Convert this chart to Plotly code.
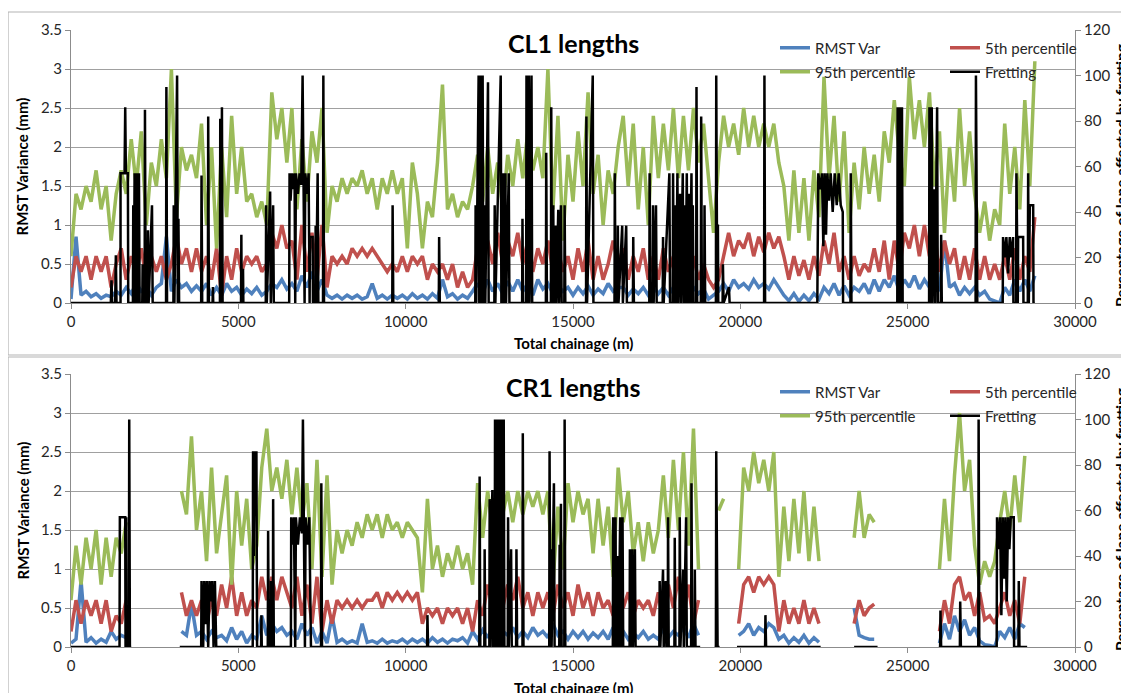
import plotly.graph_objects as go

# ---------------- data ----------------
STEP = 150  # chainage sampling interval (m)

# CL1 lengths (top chart), mm, one value per 150 m from 0 m
cl1_rmst = [
    0.05, 0.85, 0.1, 0.15, 0.08, 0.12, 0.06, 0.1, 0.08, 0.15,
    0.1, 0.2, 0.12, 0.25, 0.15, 0.2, 0.1, 0.2, 0.25, 0.85,
    0.15, 0.3, 0.2, 0.25, 0.15, 0.22, 0.15, 0.25, 0.1, 0.2,
    0.1, 0.25, 0.15, 0.2, 0.1, 0.18, 0.12, 0.2, 0.1, 0.15,
    0.25, 0.2, 0.3, 0.18, 0.25, 0.15, 0.35, 0.2, 0.4, 0.15,
    0.3, 0.1, 0.06, 0.1, 0.05, 0.1, 0.06, 0.1, 0.05, 0.08,
    0.25, 0.06, 0.1, 0.05, 0.1, 0.06, 0.1, 0.05, 0.12, 0.06,
    0.1, 0.05, 0.12, 0.06, 0.3, 0.08, 0.12, 0.05, 0.1, 0.06,
    0.15, 0.25, 0.12, 0.3, 0.15, 0.25, 0.12, 0.28, 0.15, 0.3,
    0.15, 0.25, 0.1, 0.3, 0.18, 0.25, 0.12, 0.22, 0.15, 0.2,
    0.1, 0.2, 0.12, 0.22, 0.1, 0.18, 0.12, 0.25, 0.15, 0.2,
    0.2, 0.1, 0.18, 0.12, 0.2, 0.1, 0.22, 0.12, 0.2, 0.1,
    0.2, 0.12, 0.25, 0.1, 0.2, 0.12, 0.18, 0.05, 0.1, 0.15,
    0.25, 0.15, 0.3, 0.2, 0.25, 0.18, 0.3, 0.2, 0.25, 0.18,
    0.3, 0.2, 0.1, 0.03, 0.12, 0.02, 0.1, 0.03, 0.12, 0.05,
    0.2, 0.12, 0.25, 0.1, 0.22, 0.1, 0.2, 0.15, 0.25, 0.12,
    0.3, 0.15, 0.3, 0.2, 0.35, 0.15, 0.3, 0.2, 0.35, 0.18,
    0.3, 0.2, 0.35, 0.15, 0.8, 0.2, 0.25, 0.1, 0.2, 0.12,
    0.2, 0.1, 0.15, 0.05, 0.02, 0.0, 0.2, 0.1, 0.3, 0.15,
    0.3, 0.15, 0.35,
]
cl1_p5 = [
    0.2, 0.6, 0.4, 0.6, 0.3, 0.6, 0.4, 0.6, 0.2, 0.5,
    0.7, 0.3, 0.6, 0.4, 0.7, 0.3, 0.6, 0.4, 0.6, 0.3,
    0.5, 0.85, 0.5, 0.7, 0.4, 0.7, 0.4, 0.6, 0.3, 0.7,
    0.1, 0.6, 0.3, 0.7, 0.4, 0.6, 0.5, 0.6, 0.4, 0.5,
    0.9, 0.7, 1.0, 0.7, 0.8, 0.3, 1.0, 0.4, 0.9, 0.3,
    1.0, 0.2, 0.6, 0.5, 0.6, 0.5, 0.7, 0.6, 0.7, 0.6,
    0.7, 0.6, 0.5, 0.4, 0.5, 0.4, 0.6, 0.4, 0.6, 0.5,
    0.6, 0.3, 0.5, 0.4, 0.5, 0.3, 0.5, 0.2, 0.4, 0.2,
    0.3, 0.7, 0.4, 0.8, 0.5, 0.9, 0.5, 0.8, 0.6, 0.9,
    0.5, 0.8, 0.4, 0.7, 0.5, 0.8, 0.4, 0.7, 0.4, 0.6,
    0.3, 0.7, 0.4, 0.8, 0.3, 0.6, 0.3, 0.5, 0.8, 0.5,
    0.7, 0.3, 0.6, 0.4, 0.7, 0.3, 0.6, 0.3, 0.7, 0.4,
    0.6, 0.3, 0.7, 0.4, 0.6, 0.3, 0.5, 0.3, 0.2, 0.3,
    0.6, 0.9, 0.6, 0.8, 0.7, 0.9, 0.6, 0.85, 0.65, 0.9,
    0.7, 0.85, 0.6, 0.3, 0.6, 0.35, 0.55, 0.3, 0.6, 0.35,
    0.8, 0.5, 0.9, 0.4, 0.6, 0.3, 0.6, 0.35, 0.5, 0.4,
    0.7, 0.4, 0.8, 0.3, 0.8, 0.4, 0.9, 0.7, 1.0, 0.6,
    1.0, 0.6, 0.9, 0.4, 0.8, 0.5, 0.7, 0.3, 0.6, 0.3,
    0.7, 0.3, 0.6, 0.3, 0.5, 0.3, 0.6, 0.3, 0.7, 0.3,
    0.6, 0.4, 1.1,
]
cl1_p95 = [
    0.6, 1.4, 1.2, 1.5, 1.3, 1.7, 1.2, 1.5, 0.8, 1.4,
    1.7, 1.4, 2.1, 1.5, 2.2, 1.0, 1.8, 1.5, 2.1, 1.6,
    3.0, 1.1, 2.0, 1.7, 1.9, 1.6, 2.3, 1.0, 2.0, 0.7,
    2.0, 1.1, 2.4, 1.4, 2.0, 1.3, 1.4, 1.1, 1.3, 1.0,
    2.7, 2.1, 2.5, 1.8, 2.5, 1.2, 2.1, 1.3, 2.2, 1.8,
    2.5, 0.9, 1.5, 1.3, 1.6, 1.4, 1.6, 1.5, 1.7, 1.4,
    1.6, 1.2, 1.6, 1.4, 1.7, 1.4, 1.6, 0.7, 1.8, 1.4,
    0.7, 1.3, 1.1, 1.8, 2.8, 1.2, 1.4, 1.1, 1.3, 1.2,
    1.5, 1.9, 1.3, 2.0, 1.4, 1.8, 1.2, 1.9, 1.5, 2.1,
    1.6, 2.2, 1.7, 2.0, 1.6, 3.0, 1.2, 2.4, 0.8, 1.9,
    1.3, 2.2, 1.5, 2.7, 1.4, 1.9, 1.0, 1.7, 1.4, 2.0,
    2.4, 1.5, 2.3, 1.2, 2.0, 1.0, 2.4, 1.6, 2.3, 1.7,
    2.5, 1.6, 2.4, 1.7, 2.5, 1.8, 2.3, 1.6, 0.9, 1.8,
    2.4, 2.0, 2.3, 1.9, 2.5, 2.0, 2.4, 2.0, 2.3, 2.0,
    2.3, 1.8, 1.5, 0.8, 1.7, 0.9, 1.6, 0.8, 1.7, 1.1,
    2.9, 1.6, 2.4, 1.3, 2.2, 0.9, 1.8, 1.2, 2.0, 1.4,
    1.9, 1.3, 2.2, 1.8, 2.6, 1.9, 1.5, 2.9, 2.1, 2.6,
    2.0, 2.7, 1.5, 2.2, 0.9, 2.0, 1.3, 2.5, 1.5, 2.2,
    1.4, 0.9, 1.3, 0.8, 1.2, 1.0, 2.3, 1.4, 2.0, 1.2,
    2.6, 1.5, 3.1,
]
# fretting, % of lane: (chainage m, %)
cl1_fretting = [
    (0, 0), (1190, 0), (1210, 10), (1230, 0), (1320, 0), (1340, 21), (1360, 0),
    (1480, 0), (1480, 57), (1600, 57), (1620, 86), (1640, 57), (1700, 57), (1710, 0),
    (1850, 0), (1860, 43), (1880, 0), (1900, 57), (1920, 0), (1960, 57), (1980, 0),
    (2030, 57), (2050, 0), (2130, 0), (2140, 17), (2150, 0), (2200, 0), (2210, 85),
    (2230, 0), (2290, 0), (2300, 32), (2320, 0), (2420, 43), (2440, 0),
    (2840, 0), (2850, 95), (2870, 0), (3060, 0), (3070, 43), (3090, 0), (3170, 100),
    (3190, 0), (3210, 37), (3230, 0), (3890, 0), (3900, 56), (3920, 0),
    (4090, 0), (4100, 82), (4120, 0), (4230, 0), (4240, 7), (4250, 0),
    (4450, 0), (4460, 81), (4480, 0), (4510, 86), (4530, 0),
    (5080, 0), (5090, 30), (5100, 0), (5140, 15), (5150, 0),
    (5820, 0), (5830, 43), (5850, 0), (5950, 49), (5970, 0), (6040, 43), (6060, 0),
    (6520, 0), (6530, 57), (6560, 45), (6600, 57), (6640, 50), (6680, 57), (6700, 0),
    (6720, 57), (6780, 48), (6830, 57), (6880, 52), (6920, 100), (6940, 57), (6980, 0),
    (7000, 57), (7060, 48), (7100, 57), (7130, 0), (7140, 29), (7220, 29), (7230, 0),
    (7300, 0), (7310, 34), (7320, 0), (7370, 57), (7390, 0), (7530, 0), (7540, 100),
    (7560, 0), (9600, 0), (9610, 43), (9630, 0), (10990, 0), (11000, 29), (11020, 0),
    (12080, 0), (12090, 43), (12110, 0), (12180, 100), (12200, 0), (12240, 100),
    (12260, 0), (12300, 100), (12320, 0), (12360, 43), (12380, 0), (12460, 97),
    (12480, 0), (12650, 0), (12660, 43), (12680, 0), (12840, 100), (12860, 0),
    (12910, 0), (12920, 57), (12940, 0), (12980, 57), (13000, 0), (13080, 57),
    (13100, 0), (13480, 0), (13490, 37), (13510, 0), (13600, 0), (13610, 100),
    (13630, 0), (13680, 100), (13700, 0), (13760, 100), (13780, 0),
    (14190, 0), (14200, 66), (14220, 0), (14340, 0), (14350, 86), (14370, 0),
    (14410, 43), (14430, 0), (14480, 34), (14500, 0), (14560, 41), (14580, 0),
    (14640, 43), (14660, 0), (14740, 0), (14750, 43), (14770, 0),
    (15390, 0), (15400, 82), (15420, 0), (15590, 100), (15610, 0),
    (16240, 0), (16250, 57), (16270, 0), (16330, 0), (16340, 34), (16360, 0),
    (16470, 34), (16490, 0), (16590, 34), (16610, 0), (16790, 0), (16800, 29),
    (16820, 0), (17280, 0), (17290, 57), (17310, 0), (17380, 0), (17390, 43),
    (17410, 0), (17480, 43), (17500, 0), (17680, 0), (17690, 29), (17710, 0),
    (17880, 57), (17900, 0), (17980, 0), (17990, 57), (18010, 0), (18060, 43),
    (18080, 0), (18120, 57), (18140, 0), (18200, 48), (18220, 0), (18280, 57),
    (18300, 0), (18340, 43), (18360, 0), (18400, 57), (18420, 0), (18470, 48),
    (18490, 0), (18540, 57), (18560, 0), (18580, 43), (18600, 0),
    (18680, 0), (18690, 95), (18710, 0), (18820, 0), (18830, 82), (18850, 0),
    (18920, 0), (18930, 43), (18950, 0), (19270, 0), (19280, 100), (19300, 34),
    (19330, 34), (19340, 0), (19470, 0), (19480, 17), (19500, 0), (19660, 7),
    (19680, 0), (20710, 0), (20720, 100), (20740, 0),
    (22300, 0), (22310, 20), (22330, 57), (22400, 50), (22440, 57), (22480, 25),
    (22520, 57), (22560, 30), (22600, 57), (22650, 45), (22700, 57), (22760, 40),
    (22820, 57), (22880, 43), (22940, 57), (23000, 43), (23060, 40), (23070, 0),
    (23290, 0), (23300, 57), (23320, 0), (24690, 0), (24700, 86), (24720, 0),
    (24760, 86), (24780, 0), (24830, 86), (24850, 0), (25640, 0), (25650, 86),
    (25670, 0), (25720, 86), (25740, 0), (25800, 50), (25820, 0), (25880, 86),
    (25900, 0), (25990, 0), (26000, 30), (26020, 0), (27030, 0), (27040, 100),
    (27060, 43), (27080, 0), (27840, 0), (27850, 29), (27900, 20), (27950, 29),
    (28000, 13), (28050, 29), (28100, 20), (28150, 29), (28160, 0), (28240, 0),
    (28250, 57), (28270, 0), (28290, 0), (28300, 29), (28450, 29), (28460, 0),
    (28590, 0), (28600, 57), (28620, 0), (28650, 43), (28750, 43), (28760, 0),
    (28800, 0),
]

# CR1 lengths (bottom chart); None = no survey data
cr1_rmst = [
    0.05, 0.1, 0.85, 0.06, 0.12, 0.05, 0.1, 0.06, 0.2, 0.1,
    0.15, 0.12, None, None, None, None, None, None, None, None,
    None, None, 0.2, 0.15, 0.55, 0.15, 0.2, 0.1, 0.2, 0.12,
    0.15, 0.08, 0.25, 0.1, 0.2, 0.05, 0.15, 0.1, 0.4, 0.15,
    0.3, 0.2, 0.25, 0.15, 0.2, 0.1, 0.3, 0.15, 0.25, 0.05,
    0.2, 0.05, 0.4, 0.06, 0.1, 0.05, 0.08, 0.05, 0.3, 0.06,
    0.08, 0.05, 0.1, 0.05, 0.08, 0.06, 0.1, 0.05, 0.1, 0.06,
    0.1, 0.05, 0.12, 0.06, 0.1, 0.05, 0.1, 0.08, 0.12, 0.05,
    0.2, 0.1, 0.22, 0.12, 0.25, 0.1, 0.2, 0.15, 0.25, 0.12,
    0.2, 0.12, 0.25, 0.15, 0.2, 0.12, 0.3, 0.15, 0.2, 0.1,
    0.2, 0.12, 0.2, 0.1, 0.18, 0.12, 0.2, 0.1, 0.25, 0.15,
    0.2, 0.1, 0.18, 0.12, 0.2, 0.1, 0.15, 0.1, 0.25, 0.12,
    0.2, 0.15, 0.25, 0.12, 0.3, 0.15, None, None, None, None,
    None, None, None, 0.15, 0.2, 0.3, 0.15, 0.25, 0.2, 0.3,
    0.25, 0.1, 0.15, 0.05, 0.12, 0.06, 0.15, 0.05, 0.12, 0.06,
    None, None, None, None, None, None, 0.5, 0.15, 0.12, 0.1,
    0.1, None, None, None, None, None, None, None, None, None,
    None, None, None, 0.05, 0.3, 0.1, 0.4, 0.2, 0.35, 0.15,
    0.25, 0.08, 0.03, 0.02, 0.0, 0.2, 0.12, 0.25, 0.1, 0.3,
    0.25, None, None,
]
cr1_p5 = [
    0.2, 0.6, 0.3, 0.6, 0.4, 0.6, 0.3, 0.6, 0.2, 0.4,
    0.3, 0.6, None, None, None, None, None, None, None, None,
    None, None, 0.7, 0.4, 0.6, 0.4, 0.6, 0.3, 0.6, 0.4,
    0.8, 0.5, 0.9, 0.4, 0.7, 0.4, 0.6, 0.5, 0.9, 0.6,
    0.9, 0.6, 0.9, 0.7, 0.5, 0.9, 0.4, 0.8, 0.3, 0.9,
    0.2, 0.6, 0.3, 0.6, 0.5, 0.6, 0.5, 0.6, 0.5, 0.6,
    0.6, 0.7, 0.5, 0.7, 0.6, 0.7, 0.6, 0.7, 0.6, 0.7,
    0.3, 0.5, 0.4, 0.5, 0.3, 0.5, 0.4, 0.5, 0.3, 0.5,
    0.2, 0.6, 0.4, 0.8, 0.5, 0.9, 0.5, 0.8, 0.6, 0.9,
    0.5, 0.7, 0.4, 0.7, 0.5, 0.7, 0.4, 0.8, 0.5, 0.7,
    0.4, 0.8, 0.5, 0.7, 0.4, 0.7, 0.5, 0.6, 0.4, 0.8,
    0.5, 0.7, 0.4, 0.6, 0.5, 0.6, 0.4, 0.7, 0.3, 0.8,
    0.5, 0.9, 0.4, 0.8, 0.3, 0.6, None, None, None, None,
    None, None, None, 0.3, 0.8, 0.9, 0.7, 0.9, 0.8, 0.9,
    0.8, 0.2, 0.6, 0.3, 0.5, 0.3, 0.6, 0.3, 0.5, 0.3,
    None, None, None, None, None, None, 0.3, 0.6, 0.4, 0.5,
    0.55, None, None, None, None, None, None, None, None, None,
    None, None, None, 0.2, 0.6, 0.3, 0.8, 0.9, 0.6, 0.7,
    0.4, 0.7, 0.35, 0.4, 0.3, 0.5, 0.7, 0.4, 0.6, 0.3,
    0.9, None, None,
]
cr1_p95 = [
    0.6, 1.3, 0.8, 1.4, 1.0, 1.5, 0.8, 1.4, 0.9, 1.4,
    1.2, 1.6, None, None, None, None, None, None, None, None,
    None, None, 2.0, 1.7, 2.7, 1.5, 2.0, 1.1, 2.3, 1.2,
    1.7, 2.2, 0.8, 2.0, 1.3, 1.9, 1.0, 1.3, 2.3, 2.8,
    2.0, 2.3, 1.9, 2.4, 1.7, 2.3, 1.6, 2.1, 1.0, 2.4,
    0.9, 2.2, 0.8, 1.5, 1.2, 1.5, 1.3, 1.6, 1.4, 1.7,
    1.5, 1.7, 1.4, 1.7, 1.5, 1.6, 1.4, 1.6, 1.5, 1.4,
    0.7, 1.9, 1.0, 1.3, 0.9, 1.2, 1.0, 1.3, 1.0, 1.2,
    0.8, 2.1, 1.4, 2.0, 1.5, 2.1, 1.7, 2.0, 1.6, 2.0,
    1.7, 2.0, 1.8, 2.0, 1.7, 2.0, 0.8, 1.8, 1.0, 2.1,
    1.6, 2.0, 1.7, 1.9, 1.2, 1.9, 1.3, 1.8, 0.9, 2.3,
    1.6, 2.0, 1.2, 1.6, 1.1, 1.6, 1.2, 1.5, 2.2, 1.4,
    2.4, 1.5, 2.5, 1.3, 2.8, 1.0, None, None, None, 1.75,
    1.9, None, None, 1.0, 2.3, 2.0, 2.5, 2.1, 2.4, 2.0,
    2.5, 0.9, 1.8, 1.1, 1.9, 1.2, 2.0, 1.1, 1.8, 1.1,
    None, None, None, None, None, None, 1.4, 2.0, 1.4, 1.7,
    1.6, None, None, None, None, None, None, None, None, None,
    None, None, None, 1.0, 1.9, 1.1, 2.2, 3.0, 2.0, 2.4,
    1.3, 0.8, 1.1, 0.9, 1.1, 1.6, 2.0, 1.5, 2.2, 1.6,
    2.45, None, None,
]
cr1_fretting = [
    (0, 0), (1450, 0), (1460, 57), (1620, 57), (1630, 0), (1650, 57), (1660, 0),
    (1730, 0), (1740, 100), (1760, 0), (1800, 0), (1800, None),
    (3250, 0), (3890, 0), (3900, 29), (3950, 0), (3980, 29), (4020, 10), (4060, 29),
    (4100, 0), (4140, 29), (4180, 20), (4220, 29), (4260, 0), (4300, 29), (4340, 0),
    (5430, 0), (5440, 86), (5460, 40), (5490, 86), (5520, 60), (5540, 86), (5560, 0),
    (5680, 0), (5690, 14), (5700, 0), (5880, 0), (5890, 51), (5910, 0), (5970, 0),
    (5980, 29), (6000, 0), (6030, 0), (6040, 65), (6060, 0),
    (6570, 0), (6580, 57), (6620, 45), (6660, 57), (6700, 0), (6720, 57), (6780, 45),
    (6840, 57), (6900, 50), (6930, 100), (6950, 57), (6990, 0), (7010, 57), (7070, 45),
    (7120, 57), (7170, 0), (7470, 0), (7480, 72), (7500, 0),
    (10640, 0), (10650, 14), (10670, 0), (12200, 0), (12210, 75), (12230, 0),
    (12350, 0), (12360, 43), (12380, 0), (12500, 0), (12510, 65), (12530, 0),
    (12590, 69), (12610, 0), (12660, 0), (12670, 100), (12690, 0), (12730, 100),
    (12750, 0), (12790, 100), (12810, 0), (12860, 100), (12880, 0), (12930, 100),
    (12950, 0), (13050, 0), (13060, 57), (13080, 0), (13150, 43), (13170, 0),
    (13300, 0), (13310, 43), (13330, 0), (13490, 0), (13500, 94), (13520, 0),
    (14290, 0), (14300, 86), (14320, 0), (14340, 43), (14360, 0), (14430, 72),
    (14450, 0), (14590, 0), (14600, 45), (14620, 0), (14640, 63), (14660, 0),
    (14740, 0), (14750, 100), (14770, 0),
    (16190, 0), (16200, 57), (16220, 0), (16270, 57), (16290, 0), (16340, 40),
    (16360, 0), (16410, 57), (16430, 0), (16480, 57), (16500, 0),
    (16690, 0), (16700, 43), (16720, 0), (16770, 43), (16790, 0), (16850, 43),
    (16870, 0), (17580, 0), (17590, 29), (17610, 0), (17690, 34), (17710, 0),
    (17770, 29), (17790, 0), (17830, 0), (17840, 57), (17860, 0),
    (18030, 0), (18040, 48), (18060, 0), (18180, 0), (18190, 57), (18210, 0),
    (18290, 34), (18310, 0), (18380, 57), (18400, 0), (18530, 0), (18540, 72),
    (18560, 0), (18630, 0), (18640, 34), (18660, 0), (18800, 0), (18800, None),
    (19230, 0), (19270, 0), (19280, 86), (19300, 38), (19320, 0), (19380, 0),
    (19380, None), (19900, 0), (20740, 0), (20750, 14), (20770, 0), (22400, 0),
    (22400, None), (23400, 0), (24100, 0), (24100, None),
    (25930, 0), (25970, 0), (25980, 16), (26000, 0), (26560, 0), (26570, 20),
    (26590, 0), (27110, 0), (27120, 100), (27140, 0),
    (27660, 0), (27670, 57), (27720, 43), (27760, 57), (27800, 14), (27840, 57),
    (27880, 30), (27920, 57), (27960, 20), (28000, 57), (28040, 43), (28080, 57),
    (28170, 57), (28180, 0), (28310, 0), (28320, 29), (28340, 0), (28570, 0),
]

series_names = ["RMST Var", "5th percentile", "95th percentile", "Fretting"]
chart_titles = ["CL1 lengths", "CR1 lengths"]
x_ticks = [0, 5000, 10000, 15000, 20000, 25000, 30000]

# ---------------- styling ----------------
W, H = 1129, 693
OFF = 8  # page body margin in the browser
FONT = "Lato"
TXT = "#262626"
GRID = "#A0A0A0"
AXL = "#8C8C8C"
COLORS = ["#4F81BD", "#C0504D", "#9BBB59", "#000000"]


def fx(p):
    return (p - OFF) / W


def fy(p):
    return 1 - (p - OFF) / H


X0, X1 = 71, 1075
panels = [
    dict(top=30, bottom=303, box=(12, 355), title_y=43, xt_y=343, rt_y=176,
         leg=(48, 72), data=(cl1_rmst, cl1_p5, cl1_p95, cl1_fretting)),
    dict(top=374, bottom=647, box=(357, 720), title_y=387, xt_y=688, rt_y=520,
         leg=(392, 416), data=(cr1_rmst, cr1_p5, cr1_p95, cr1_fretting)),
]

fig = go.Figure()
layout = dict(
    width=W, height=H, margin=dict(l=0, r=0, t=0, b=0),
    paper_bgcolor="white", plot_bgcolor="white",
    font=dict(family=FONT, color=TXT, size=15),
    showlegend=True, annotations=[], shapes=[],
)

for k, p in enumerate(panels):
    xa = "x" if k == 0 else "x2"
    yl = "y" if k == 0 else "y3"
    yr = "y2" if k == 0 else "y4"
    leg_a = "legend" if k == 0 else "legend3"
    leg_b = "legend2" if k == 0 else "legend4"
    rmst, p5, p95, fret = p["data"]
    chain = [i * STEP for i in range(len(rmst))]
    for j, vals in enumerate([rmst, p5, p95]):
        fig.add_trace(go.Scatter(
            x=chain, y=vals, mode="lines", name=series_names[j],
            line=dict(color=COLORS[j], width=3.5),
            xaxis=xa, yaxis=yl, legend=leg_a if j < 2 else leg_b,
            hoverinfo="skip"))
    fig.add_trace(go.Scatter(
        x=[a for a, b in fret], y=[b for a, b in fret], mode="lines",
        name=series_names[3], line=dict(color=COLORS[3], width=2.5),
        xaxis=xa, yaxis=yr, legend=leg_b, hoverinfo="skip"))

    dom_y = [fy(p["bottom"]), fy(p["top"])]
    xkey = "xaxis" if k == 0 else "xaxis2"
    ylkey = "yaxis" if k == 0 else "yaxis3"
    yrkey = "yaxis2" if k == 0 else "yaxis4"
    layout[xkey] = dict(
        domain=[fx(X0), fx(X1)], anchor=yl, range=[0, 30000],
        tickvals=x_ticks, tickformat="d", showgrid=False, zeroline=False,
        showline=True, linecolor=AXL, linewidth=1, ticks="outside",
        ticklen=5, tickcolor=AXL, tickfont=dict(size=15, color=TXT),
        automargin=False)
    layout[ylkey] = dict(
        domain=dom_y, anchor=xa, range=[0, 3.5], dtick=0.5, showgrid=True,
        gridcolor=GRID, gridwidth=1, zeroline=False, showline=True,
        linecolor=AXL, ticks="outside", ticklen=5, tickcolor=AXL,
        tickfont=dict(size=15, color=TXT), automargin=False)
    layout[yrkey] = dict(
        overlaying=yl, side="right", anchor=xa, range=[0, 120], dtick=20,
        showgrid=False, zeroline=False, showline=True, linecolor=AXL,
        ticks="outside", ticklen=5, tickcolor=AXL,
        tickfont=dict(size=15, color=TXT), automargin=False)

    for legkey, yy in ((leg_a, p["leg"][0]), (leg_b, p["leg"][1])):
        layout[legkey] = dict(
            orientation="h", x=fx(775), xanchor="left", y=fy(yy),
            yanchor="middle", bgcolor="rgba(0,0,0,0)", borderwidth=0,
            entrywidth=125, entrywidthmode="pixels",
            font=dict(family=FONT, size=15, color=TXT))

    ann = layout["annotations"]
    common = dict(xref="paper", yref="paper", showarrow=False,
                  xanchor="center", yanchor="middle")
    ann.append(dict(text="<b>%s</b>" % chart_titles[k], x=fx(573), y=fy(p["title_y"]),
                    font=dict(size=25, color="#000000"), **common))
    ann.append(dict(text="<b>RMST Variance (mm)</b>", x=fx(22),
                    y=fy((p["top"] + p["bottom"]) / 2), textangle=-90,
                    font=dict(size=15, color="#000000"), **common))
    ann.append(dict(text="<b>Total chainage (m)</b>", x=fx(573), y=fy(p["xt_y"]),
                    font=dict(size=15, color="#000000"), **common))
    ann.append(dict(text="<b>Percentage of lane affected by fretting</b>", x=fx(1121),
                    y=fy(p["rt_y"]), textangle=-90,
                    font=dict(size=15.5, color="#000000"), **common))
    layout["shapes"].append(dict(
        type="rect", xref="paper", yref="paper", x0=fx(8), x1=1.02,
        y0=fy(p["box"][1]), y1=fy(p["box"][0]),
        line=dict(color="#B3B3B3", width=1.2), layer="below"))

fig.update_layout(**layout)
fig.write_html("out.html")
